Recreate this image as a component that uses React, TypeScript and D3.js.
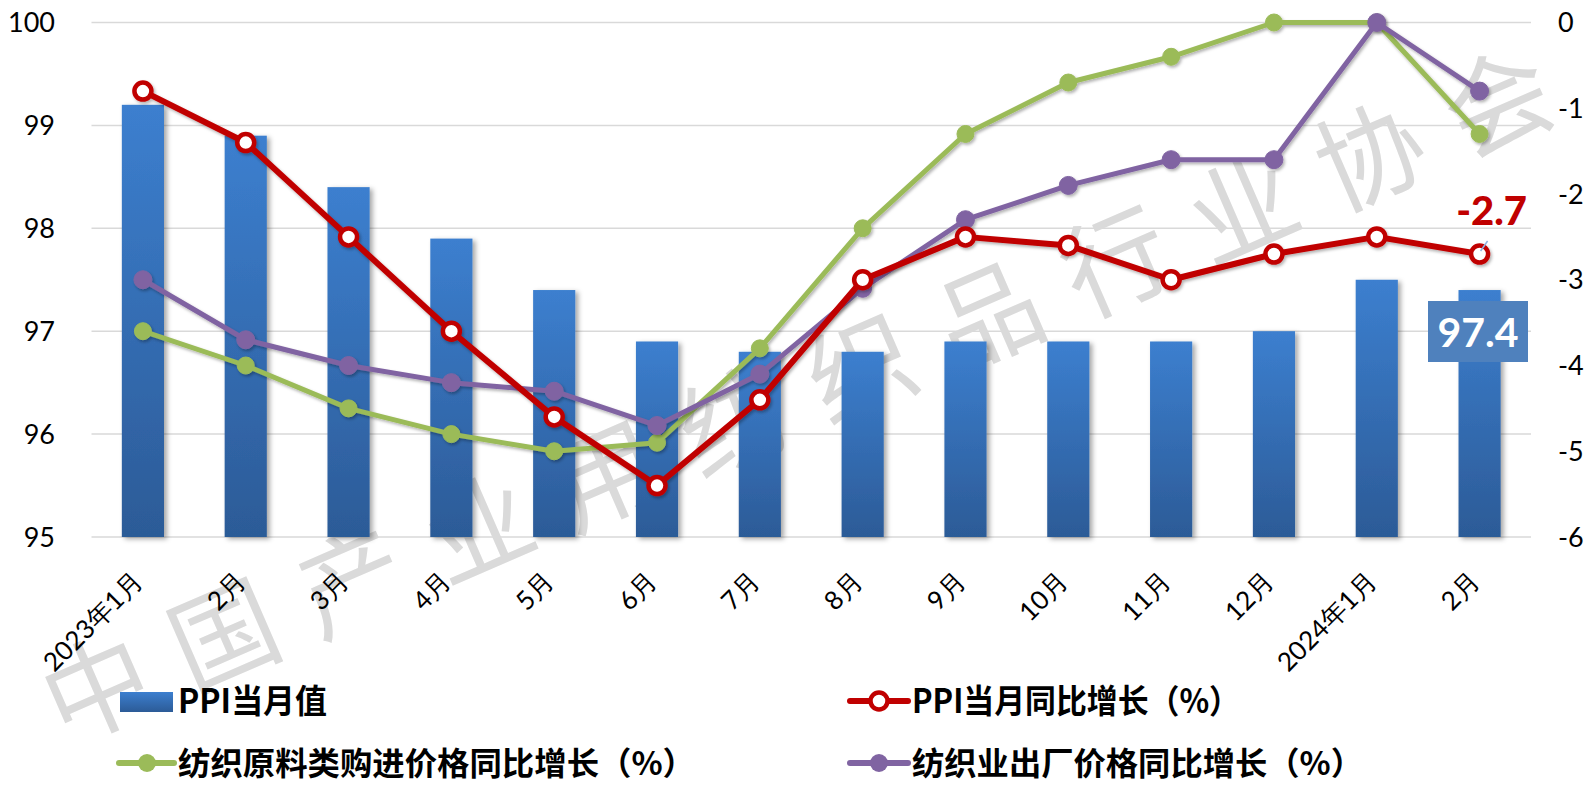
import React from "react";
import * as d3 from "d3";

const categories = ["2023年1月", "2月", "3月", "4月", "5月", "6月", "7月", "8月", "9月", "10月", "11月", "12月", "2024年1月", "2月"];
const ppiValue = [99.2, 98.9, 98.4, 97.9, 97.4, 96.9, 96.8, 96.8, 96.9, 96.9, 96.9, 97.0, 97.5, 97.4];
const ppiYoY = [-0.8, -1.4, -2.5, -3.6, -4.6, -5.4, -4.4, -3.0, -2.5, -2.6, -3.0, -2.7, -2.5, -2.7];
const rawPurchaseYoY = [-3.6, -4.0, -4.5, -4.8, -5.0, -4.9, -3.8, -2.4, -1.3, -0.7, -0.4, 0.0, 0.0, -1.3];
const exFactoryYoY = [-3.0, -3.7, -4.0, -4.2, -4.3, -4.7, -4.1, -3.1, -2.3, -1.9, -1.6, -1.6, 0.0, -0.8];
const leftTicks = [95, 96, 97, 98, 99, 100];
const rightTicks = [-6, -5, -4, -3, -2, -1, 0];
const legendNames = ["PPI当月值", "PPI当月同比增长（%）", "纺织原料类购进价格同比增长（%）", "纺织业出厂价格同比增长（%）"];
const watermark = "中国产业用纺织品行业协会";

const W = 1595, H = 786;
const left = 91.5, right = 1531, top = 22.5, bottom = 537;
const tickFont = "Lato, 'Open Sans', sans-serif";
const cjkFont = "'Noto Sans CJK SC', 'Noto Sans', sans-serif";

export default function App() {
  const x = d3.scaleBand<number>().domain(d3.range(categories.length)).range([left, right]).paddingInner(0.59).paddingOuter(0.295);
  const yL = d3.scaleLinear().domain([95, 100]).range([bottom, top]);
  const yR = d3.scaleLinear().domain([-6, 0]).range([bottom, top]);
  const cx = (i: number) => (x(i) as number) + x.bandwidth() / 2;
  const line = (vals: number[]) => d3.line<number>().x((_, i) => cx(i)).y((v) => yR(v))(vals) as string;

  const wmChars = Array.from(watermark);
  const wmX = d3.scaleLinear().domain([0, wmChars.length - 1]).range([94, 1495]);
  const wmY = d3.scaleLinear().domain([0, wmChars.length - 1]).range([682, 96]);

  const lastI = categories.length - 1;
  const series = [
    { vals: rawPurchaseYoY, color: "#9bbb59", w: 5, r: 8.5, hollow: false },
    { vals: exFactoryYoY, color: "#8064a2", w: 5, r: 9, hollow: false },
    { vals: ppiYoY, color: "#c00000", w: 6, r: 8.5, hollow: true },
  ];

  return (
    <svg width={W} height={H} style={{ position: "absolute", left: 0, top: 0, background: "#fff" }}>
      <defs>
        <linearGradient id="barGrad" x1="0" y1="0" x2="0" y2="1">
          <stop offset="0" stopColor="#3c7fcf" />
          <stop offset="1" stopColor="#2c5b97" />
        </linearGradient>
        <filter id="shadow" x="-30%" y="-10%" width="160%" height="120%">
          <feDropShadow dx="3" dy="2" stdDeviation="2.5" floodColor="#000" floodOpacity="0.35" />
        </filter>
        <filter id="lshadow" x="-10%" y="-10%" width="120%" height="130%">
          <feDropShadow dx="1.5" dy="2" stdDeviation="1.5" floodColor="#000" floodOpacity="0.3" />
        </filter>
      </defs>
      {/* gridlines */}
      {leftTicks.map((t) => (
        <line key={t} x1={left} x2={right} y1={yL(t)} y2={yL(t)} stroke="#d9d9d9" strokeWidth={1.5} />
      ))}
      {/* watermark */}
      <g fontFamily="'Noto Sans CJK SC', sans-serif" fontWeight={400} fontSize={106} fill="#dadada">
        {wmChars.map((ch, i) => (
          <text key={i} transform={`translate(${wmX(i)},${wmY(i)}) rotate(-23.5)`} textAnchor="middle" dominantBaseline="central">{ch}</text>
        ))}
      </g>
      {/* bars */}
      {ppiValue.map((v, i) => (
        <rect key={i} x={x(i)} y={yL(v)} width={x.bandwidth()} height={bottom - yL(v)} fill="url(#barGrad)" filter="url(#shadow)" />
      ))}
      {/* left ticks */}
      {leftTicks.map((t) => (
        <text key={t} x={55} y={yL(t)} dy="0.36em" textAnchor="end" fontFamily={tickFont} fontSize={27} fill="#000">{t}</text>
      ))}
      {/* right ticks */}
      {rightTicks.map((t) => (
        <text key={t} x={1558} y={yR(t)} dy="0.36em" textAnchor="start" fontFamily={tickFont} fontSize={27} fill="#000">{t}</text>
      ))}
      {/* x labels */}
      {categories.map((c, i) => (
        <text key={i} transform={`translate(${cx(i) + 1.5},${bottom + 46}) rotate(-45)`} textAnchor="end" fontFamily={tickFont} fontSize={26} fill="#000">{c}</text>
      ))}
      {/* lines */}
      {series.map((s, k) => (
        <g key={k} filter="url(#lshadow)">
          <path d={line(s.vals)} fill="none" stroke={s.color} strokeWidth={s.w} strokeLinejoin="round" />
          {s.vals.map((v, i) => (
            <circle key={i} cx={cx(i)} cy={yR(v)} r={s.r} fill={s.hollow ? "#fff" : s.color} stroke={s.color} strokeWidth={s.hollow ? 4.5 : 1} />
          ))}
        </g>
      ))}
      {/* data labels */}
      <line x1={cx(lastI) + 1} y1={yR(ppiYoY[lastI]) - 3} x2={cx(lastI) + 8} y2={yR(ppiYoY[lastI]) - 13} stroke="#8db3e2" strokeWidth={1.5} />
      <text x={1527} y={225} textAnchor="end" fontFamily={tickFont} fontWeight={900} fontSize={40} fill="#c00000">{ppiYoY[lastI].toFixed(1)}</text>
      <rect x={1428} y={301} width={100} height={61} fill="#4f81bd" />
      <text x={1478} y={347} textAnchor="middle" fontFamily={tickFont} fontWeight={700} fontSize={41} fill="#fff">{ppiValue[lastI].toFixed(1)}</text>
      {/* legend */}
      <g fontFamily={cjkFont} fontWeight={700} fill="#000">
        <rect x={120} y={692} width={53} height={20} fill="url(#barGrad)" />
        <text x={178} y={701} dy="0.36em" fontSize={33} textLength={149} lengthAdjust="spacingAndGlyphs">{legendNames[0]}</text>
        <line x1={850} x2={908} y1={701} y2={701} stroke="#c00000" strokeWidth={6} strokeLinecap="round" />
        <circle cx={879} cy={701} r={8.5} fill="#fff" stroke="#c00000" strokeWidth={4.5} />
        <text x={912} y={701} dy="0.36em" fontSize={33} textLength={328} lengthAdjust="spacingAndGlyphs">{legendNames[1]}</text>
        <line x1={119} x2={174} y1={763} y2={763} stroke="#9bbb59" strokeWidth={6} strokeLinecap="round" />
        <circle cx={147} cy={763} r={9} fill="#9bbb59" />
        <text x={178} y={763} dy="0.36em" fontSize={32} textLength={517} lengthAdjust="spacingAndGlyphs">{legendNames[2]}</text>
        <line x1={850} x2={908} y1={763} y2={763} stroke="#8064a2" strokeWidth={6} strokeLinecap="round" />
        <circle cx={879} cy={763} r={9} fill="#8064a2" />
        <text x={912} y={763} dy="0.36em" fontSize={32} textLength={451} lengthAdjust="spacingAndGlyphs">{legendNames[3]}</text>
      </g>
    </svg>
  );
}
